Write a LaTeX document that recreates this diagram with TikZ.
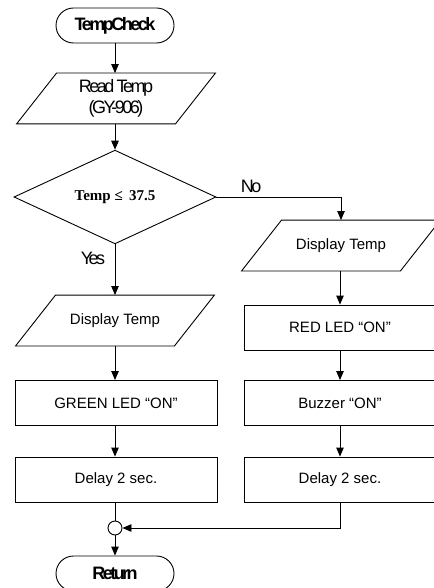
\documentclass[tikz,border=0pt]{standalone}
\usepackage{fontspec}
\setmainfont{Liberation Sans}
\newfontfamily\condfont[LetterSpace=-14]{Liberation Sans}
\newfontfamily\serifbold{Liberation Serif}
\usetikzlibrary{shapes.misc,shapes.geometric,arrows.meta,calc}
\newcommand\drawpara[1]{\draw ([xshift=20pt]#1.north west) -- ([xshift=20pt]#1.north east) -- ([xshift=-20pt]#1.south east) -- ([xshift=-20pt]#1.south west) -- cycle;}
\begin{document}
\begin{tikzpicture}[x=1pt,y=-1pt, line width=0.9pt,
  >={Triangle[length=9pt,width=7.5pt]},
  term/.style={draw, rounded rectangle, minimum width=118pt, minimum height=35pt, inner sep=0pt,
    font=\condfont\bfseries\fontsize{18}{20}\selectfont},
  io/.style={minimum width=158pt, minimum height=50pt, inner sep=0pt, align=center,
    font=\fontsize{15}{18}\selectfont},
  bigio/.style={io, font=\condfont\fontsize{18}{21}\selectfont},
  proc/.style={draw, rectangle, minimum height=45pt, inner sep=0pt,
    font=\fontsize{15}{18}\selectfont},
  lproc/.style={proc, minimum width=202pt},
  rproc/.style={proc, minimum width=192pt},
  dec/.style={draw, diamond, minimum width=202pt, minimum height=80pt, inner sep=0pt,
    font=\serifbold\bfseries\fontsize{15}{17}\selectfont},
  lbl/.style={font=\condfont\fontsize{18}{20}\selectfont, inner sep=0pt},
  junction/.style={draw, circle, minimum size=14pt, inner sep=0pt}
]
\useasboundingbox (0,0) rectangle (433,588);
\node[term] (start) at (115,25.5) {TempCheck};
\node[bigio] (read) at (116,98.5) {Read Temp\\(GY-906)};
\drawpara{read}
\node[dec] (dec) at (115,197) {Temp ≤\, 37.5};
\node[io] (ldisp) at (115,320.5) {Display Temp};
\drawpara{ldisp}
\node[io] (rdisp) at (341,245.5) {Display Temp};
\drawpara{rdisp}
\node[lproc] (green) at (116,403) {GREEN LED “ON”};
\node[lproc] (ldelay) at (116,479.5) {Delay 2 sec.};
\node[rproc] (red) at (340,327.5) {RED LED “ON”};
\node[rproc] (buzz) at (340,403) {Buzzer “ON”};
\node[rproc] (rdelay) at (340,479.5) {Delay 2 sec.};
\node[junction] (merge) at (115,528) {};
\node[term] (ret) at (115,573.5) {Return};
\node[lbl] (no) at (251,186) {No};
\node[lbl] (yes) at (93,258) {Yes};

\draw[->] (start.south) -- (start.south |- read.north);
\draw[->] (read.south -| dec.north) -- (dec.north);
\draw[->] (dec.south) -- (dec.south |- ldisp.north);
\draw[->] (dec.east) -| (rdisp.north);
\draw[->] (ldisp.south -| dec.south) -- (dec.south |- green.north);
\draw[->] (green.south -| merge.north) -- (merge.north |- ldelay.north);
\draw (ldelay.south -| merge.north) -- (merge.north);
\draw[->] (rdisp.south -| red.north) -- (red.north);
\draw[->] (red.south) -- (buzz.north);
\draw[->] (buzz.south) -- (rdelay.north);
\draw[->] (rdelay.south) |- (merge.east);
\draw[->] (merge.south) -- (ret.north);
\end{tikzpicture}
\end{document}
